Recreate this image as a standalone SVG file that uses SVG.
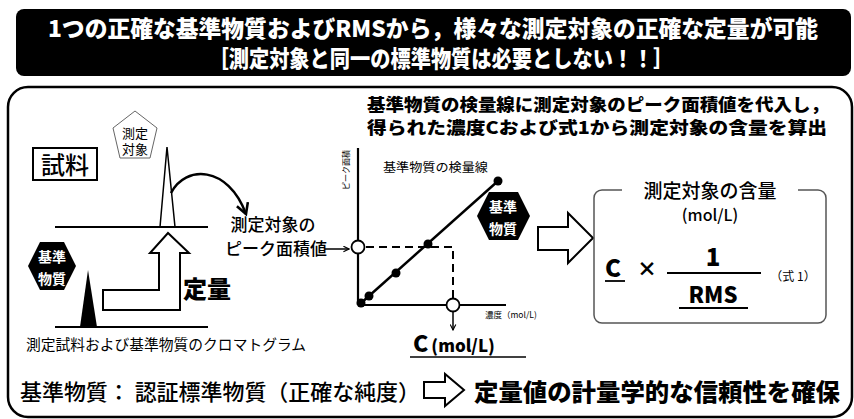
<svg xmlns="http://www.w3.org/2000/svg" width="854" height="419" viewBox="0 0 854 419">
<style>
text{font-family:"Noto Sans CJK JP","Noto Sans",sans-serif;fill:#000}
.w{fill:#fff}
.b{font-weight:700}
.k{font-weight:900}
.hol{fill:#fff;stroke:#000;stroke-width:2}
</style>
<defs>
<marker id="ah" viewBox="0 0 10 10" refX="9" refY="5" markerWidth="7" markerHeight="7" orient="auto" markerUnits="userSpaceOnUse">
<path d="M1,1 L9,5 L1,9" fill="none" stroke="#000" stroke-width="1.6"/>
</marker>
<marker id="ah2" viewBox="0 0 12 12" refX="10" refY="6" markerWidth="14" markerHeight="14" orient="auto" markerUnits="userSpaceOnUse">
<path d="M1,1 L10,6 L1,11" fill="none" stroke="#000" stroke-width="2.2"/>
</marker>
</defs>

<g id="title">
<rect x="16" y="9" width="835" height="67" rx="8" fill="#000"/>
<text class="w k" x="433" y="37" font-size="23" text-anchor="middle" textLength="770" lengthAdjust="spacingAndGlyphs">1つの正確な基準物質およびRMSから，様々な測定対象の正確な定量が可能</text>
<text class="w k" x="441" y="67" font-size="23" text-anchor="middle" textLength="465" lengthAdjust="spacingAndGlyphs">［測定対象と同一の標準物質は必要としない！！］</text>
</g>

<g id="frame">
<rect x="8" y="87" width="844" height="330" rx="20" fill="none" stroke="#000" stroke-width="2.5"/>
</g>

<g id="sample-label">
<rect x="33" y="148" width="64" height="32" fill="#fff" stroke="#000" stroke-width="2"/>
<text x="65" y="174" font-size="24" font-weight="500" text-anchor="middle">試料</text>
</g>

<g id="target-pentagon">
<polygon points="135,111 157,128 150,158 120,158 113,128" fill="#fff" stroke="#666" stroke-width="1"/>
<text x="135" y="138" font-size="13" text-anchor="middle">測定</text>
<text x="135" y="154" font-size="13" text-anchor="middle">対象</text>
</g>

<g id="chromatogram">
<line x1="55" y1="227" x2="208" y2="227" stroke="#000" stroke-width="2"/>
<line x1="55" y1="327" x2="208" y2="327" stroke="#000" stroke-width="2"/>
<polyline points="160,227 167,147 175,227" fill="none" stroke="#000" stroke-width="1.5"/>
<polygon points="80,327 88,270 97,327" fill="#000"/>
<text x="26" y="350" font-size="15" textLength="280" lengthAdjust="spacingAndGlyphs" fill="#222">測定試料および基準物質のクロマトグラム</text>
</g>

<g id="std-hex-1">
<polygon points="28,266 40,242 64,242 76,266 64,290 40,290" fill="#000"/>
<text class="w b" x="52" y="262" font-size="14" text-anchor="middle">基準</text>
<text class="w b" x="52" y="284" font-size="14" text-anchor="middle">物質</text>
</g>

<g id="quant-arrow">
<polygon class="hol" points="103,290 159,290 159,253 150,253 168,233 189,253 180,253 180,310 103,310"/>
<text class="k" x="183" y="298" font-size="24">定量</text>
</g>

<g id="peak-area-label">
<text x="273" y="231" font-size="17" text-anchor="middle" font-weight="500">測定対象の</text>
<text x="276" y="255" font-size="17" text-anchor="middle" font-weight="500">ピーク面積値</text>
</g>

<g id="graph">
<line x1="358" y1="148" x2="358" y2="305" stroke="#000" stroke-width="2.2"/>
<line x1="358" y1="305" x2="506" y2="305" stroke="#000" stroke-width="2.2"/>
<text x="0" y="0" font-size="8" transform="translate(349,190) rotate(-90)">ピーク面積</text>
<line x1="360" y1="304" x2="498" y2="181" stroke="#000" stroke-width="2.5"/>
<circle cx="361" cy="303" r="4.5"/>
<circle cx="369" cy="296" r="4.5"/>
<circle cx="396" cy="273" r="4.5"/>
<circle cx="428" cy="244" r="4.5"/>
<circle cx="498" cy="181" r="4.5"/>
<polyline points="366,247 453,247 453,298" fill="none" stroke="#000" stroke-width="2" stroke-dasharray="8,5"/>
<circle cx="358" cy="247" r="6.5" fill="#fff" stroke="#000" stroke-width="1.8"/>
<circle cx="453" cy="305" r="6.5" fill="#fff" stroke="#000" stroke-width="1.8"/>
<text x="383" y="172" font-size="12.5" textLength="105" lengthAdjust="spacingAndGlyphs">基準物質の検量線</text>
<text x="485" y="318" font-size="8.5">濃度（mol/L)</text>
<text class="k" x="413" y="352" font-size="23">C<tspan font-size="17" dx="3">(mol/L)</tspan></text>
<line x1="410" y1="357" x2="526" y2="357" stroke="#000" stroke-width="1.5"/>
</g>

<g id="std-hex-2">
<polygon points="477,216 489,192 518,192 530,216 518,240 489,240" fill="#000"/>
<text class="w b" x="503" y="212" font-size="14" text-anchor="middle">基準</text>
<text class="w b" x="503" y="234" font-size="14" text-anchor="middle">物質</text>
</g>

<g id="heading-right">
<text class="k" x="367" y="111" font-size="17" textLength="462" lengthAdjust="spacingAndGlyphs">基準物質の検量線に測定対象のピーク面積値を代入し，</text>
<text class="k" x="367" y="134" font-size="17" textLength="460" lengthAdjust="spacingAndGlyphs">得られた濃度Cおよび式1から測定対象の含量を算出</text>
</g>

<g id="big-arrow">
<polygon class="hol" points="538,227 568,227 568,213 593,238 568,263 568,250 538,250"/>
</g>

<g id="result-box">
<rect x="594" y="190" width="232" height="133" rx="8" fill="none" stroke="#555" stroke-width="1.5"/>
<rect x="622" y="178" width="176" height="50" fill="#fff"/>
<text x="710" y="198" font-size="19" text-anchor="middle" font-weight="500">測定対象の含量</text>
<text x="710" y="221" font-size="16" text-anchor="middle" font-weight="500">(mol/L)</text>
<text class="k" x="605" y="277" font-size="24">C</text>
<line x1="605" y1="281" x2="625" y2="281" stroke="#000" stroke-width="1.8"/>
<text class="k" x="647" y="277" font-size="20" text-anchor="middle">×</text>
<text class="k" x="713" y="266" font-size="24" text-anchor="middle">1</text>
<line x1="667" y1="273" x2="761" y2="273" stroke="#000" stroke-width="2"/>
<text class="k" x="713" y="303" font-size="22" text-anchor="middle">RMS</text>
<line x1="679" y1="308" x2="748" y2="308" stroke="#000" stroke-width="1.8"/>
<text x="793" y="281" font-size="12" text-anchor="middle" fill="#777">（式 1）</text>
</g>

<g id="bottom">
<text x="20" y="400" font-size="22" font-weight="500" textLength="400" lengthAdjust="spacingAndGlyphs">基準物質： 認証標準物質（正確な純度）</text>
<polygon class="hol" points="424,382 445,382 445,374 464,390 445,406 445,398 424,398"/>
<text class="k" x="474" y="401" font-size="24" textLength="366" lengthAdjust="spacingAndGlyphs">定量値の計量学的な信頼性を確保</text>
</g>

<g id="connectors">
<path d="M171,193 C185,165 228,165 246,214" fill="none" stroke="#000" stroke-width="2.5" marker-end="url(#ah2)"/>
<line x1="325" y1="249" x2="349" y2="249" stroke="#000" stroke-width="1.5" marker-end="url(#ah)"/>
<line x1="453" y1="312" x2="453" y2="330" stroke="#000" stroke-width="1.5" marker-end="url(#ah)"/>
</g>
</svg>
